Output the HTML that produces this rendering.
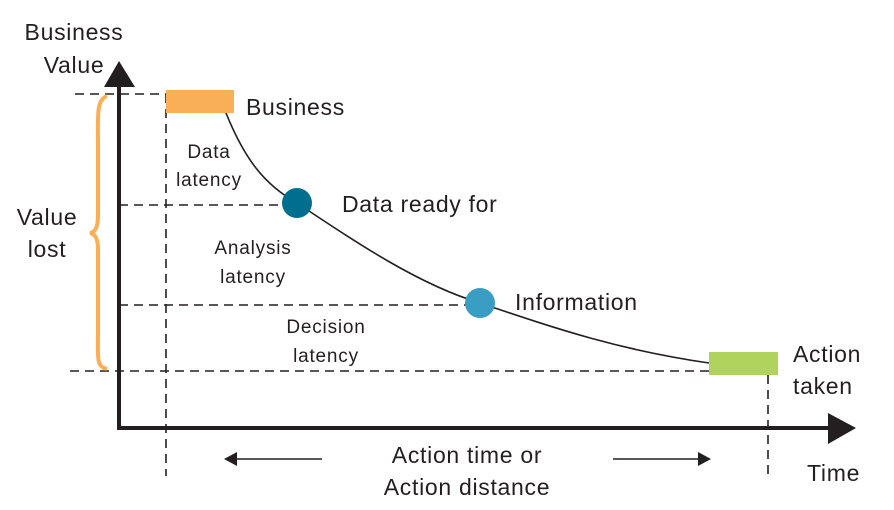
<!DOCTYPE html>
<html><head><style>
body{margin:0;background:#fff}
svg{display:block}
text{font-family:"Liberation Sans",sans-serif;fill:#231f20}
</style></head><body>
<svg width="894" height="510" viewBox="0 0 894 510">
<g stroke="#231f20" stroke-width="1.6" stroke-dasharray="9,6" fill="none">
<line x1="75" y1="94" x2="166" y2="94"/>
<line x1="166" y1="94" x2="166" y2="476"/>
<line x1="119" y1="205" x2="290" y2="205"/>
<line x1="119" y1="305" x2="470" y2="305"/>
<line x1="70" y1="371" x2="710" y2="371"/>
<line x1="768" y1="375" x2="768" y2="476"/>
</g>
<line x1="119" y1="430" x2="119" y2="80" stroke="#231f20" stroke-width="4"/>
<polygon points="104,87 135,87 119,61" fill="#231f20"/>
<line x1="117" y1="428" x2="835" y2="428" stroke="#231f20" stroke-width="4"/>
<polygon points="828,413 828,444 856,428" fill="#231f20"/>
<path d="M226,113 C245,160 265,185 297,203 C360,245 420,285 480,303 C560,330 620,350 709,363" stroke="#231f20" stroke-width="1.6" fill="none"/>
<rect x="166" y="90" width="68" height="23" fill="#f9ae58"/>
<rect x="709" y="352" width="69" height="23" fill="#b0d35e"/>
<circle cx="297" cy="203" r="15" fill="#006e8f"/>
<circle cx="480" cy="303" r="15" fill="#3a9dc4"/>
<path d="M107,96 C96,100 98,115 98,150 L98,215 C98,228 95,232 90,233 C95,234 98,238 98,250 L98,330 C98,360 96,366 107,369" stroke="#f9ae58" stroke-width="4" fill="none"/>
<line x1="322" y1="459" x2="235" y2="459" stroke="#231f20" stroke-width="1.6"/>
<polygon points="224,459 237,452 237,466" fill="#231f20"/>
<line x1="613" y1="459" x2="700" y2="459" stroke="#231f20" stroke-width="1.6"/>
<polygon points="711,459 698,452 698,466" fill="#231f20"/>
<g font-size="23" letter-spacing="0.7">
<text x="74" y="40" text-anchor="middle">Business</text>
<text x="74" y="73" text-anchor="middle">Value</text>
<text x="47" y="225" text-anchor="middle">Value</text>
<text x="47" y="257" text-anchor="middle">lost</text>
<text x="246" y="115">Business</text>
<text x="342" y="212">Data ready for</text>
<text x="515" y="310">Information</text>
<text x="793" y="362">Action</text>
<text x="793" y="394">taken</text>
<text x="467" y="463" text-anchor="middle">Action time or</text>
<text x="467" y="495" text-anchor="middle">Action distance</text>
<text x="807" y="481">Time</text>
</g>
<g font-size="19" letter-spacing="0.8" text-anchor="middle">
<text x="209" y="158">Data</text>
<text x="209" y="186">latency</text>
<text x="253" y="254">Analysis</text>
<text x="253" y="283">latency</text>
<text x="326" y="333">Decision</text>
<text x="326" y="362">latency</text>
</g>
</svg>
</body></html>
